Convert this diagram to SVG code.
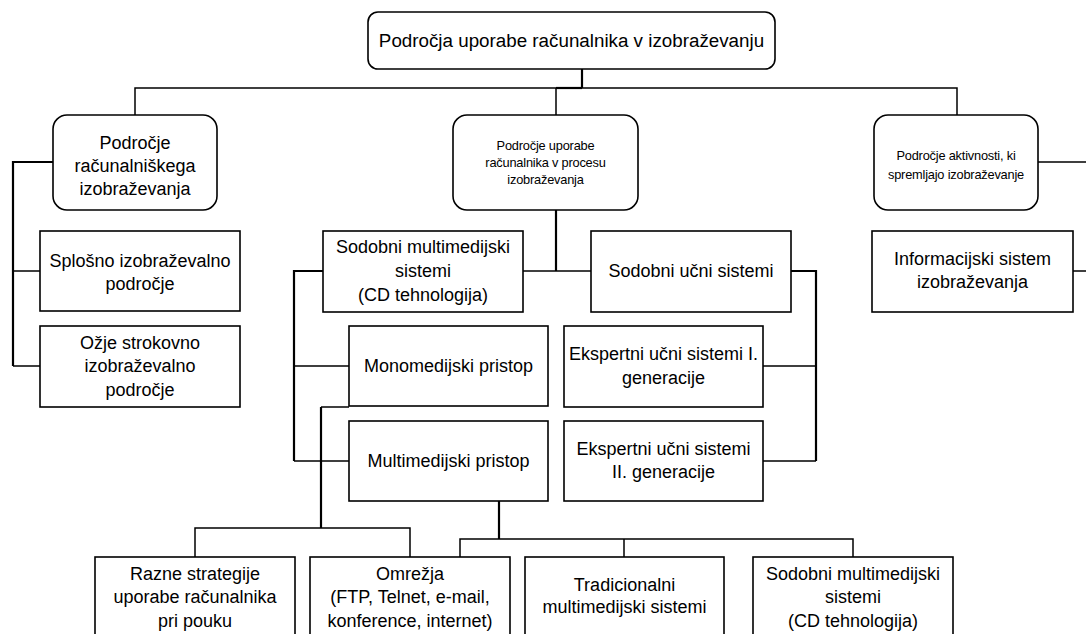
<svg xmlns="http://www.w3.org/2000/svg" width="1086" height="634" viewBox="0 0 1086 634">
<style>
.box{fill:#fff;stroke:#000;stroke-width:1.6}
.t{font-family:"Liberation Sans",Arial,sans-serif;font-size:18px;fill:#000;text-anchor:middle}
.s{font-family:"Liberation Sans",Arial,sans-serif;font-size:12.8px;fill:#000;text-anchor:middle;letter-spacing:-0.2px}
.c{fill:none;stroke:#000;stroke-width:1.5}
.ct{fill:none;stroke:#000;stroke-width:2.2}
</style>
<rect width="1086" height="634" fill="#fff"/>
<g id="connectors">
<path class="ct" d="M582,69V88"/>
<path class="c" d="M135,115V88H957V115M556,88V115"/>
<path class="ct" d="M556,88H582"/>
<path class="ct" d="M53,162H13V366"/>
<path class="c" d="M13,366H40M13,271H40"/>
<path class="ct" d="M556,210V271"/>
<path class="c" d="M523,271H591"/>
<path class="ct" d="M323,271H294V461"/>
<path class="c" d="M294,461H349M294,366H349"/>
<path class="c" d="M349,407H321"/>
<path class="ct" d="M321,407V528"/>
<path class="c" d="M195,557V528H410V557"/>
<path class="ct" d="M791,271H816V461"/>
<path class="c" d="M816,461H763M763,366H816"/>
<path class="ct" d="M499,501V539"/>
<path class="c" d="M460,557V539H853V557M624,539V557"/>
<path class="c" d="M1038,162H1086M1073,271H1086"/>
</g>
<g id="n-root"><rect class="box" x="368" y="12" width="407" height="57" rx="10"/><text class="t" x="571.5" y="47" style="font-size:18.8px">Področja uporabe računalnika v izobraževanju</text></g>
<g id="n-racunalnisko"><rect class="box" x="53" y="115" width="164" height="95" rx="14"/><text class="t" x="135" y="149">Področje</text><text class="t" x="135" y="172">računalniškega</text><text class="t" x="135" y="195">izobraževanja</text></g>
<g id="n-proces"><rect class="box" x="453" y="115" width="185" height="95" rx="14"/><text class="s" x="545.5" y="150">Področje uporabe</text><text class="s" x="545.5" y="167">računalnika v procesu</text><text class="s" x="545.5" y="184">izobraževanja</text></g>
<g id="n-aktivnosti"><rect class="box" x="874" y="115" width="164" height="95" rx="14"/><text class="s" x="956" y="160">Področje aktivnosti, ki</text><text class="s" x="956" y="179">spremljajo izobraževanje</text></g>
<g id="n-splosno"><rect class="box" x="40" y="231" width="200" height="80"/><text class="t" x="140" y="267">Splošno izobraževalno</text><text class="t" x="140" y="290">področje</text></g>
<g id="n-ozje"><rect class="box" x="40" y="326" width="200" height="81"/><text class="t" x="140" y="349">Ožje strokovno</text><text class="t" x="140" y="372">izobraževalno</text><text class="t" x="140" y="396">področje</text></g>
<g id="n-sodobni-mm"><rect class="box" x="323" y="231" width="200" height="81"/><text class="t" x="423" y="253">Sodobni multimedijski</text><text class="t" x="423" y="277">sistemi</text><text class="t" x="423" y="301">(CD tehnologija)</text></g>
<g id="n-sodobni-ucni"><rect class="box" x="591" y="231" width="200" height="81"/><text class="t" x="691" y="277">Sodobni učni sistemi</text></g>
<g id="n-informacijski"><rect class="box" x="872" y="231" width="201" height="81"/><text class="t" x="972.5" y="265">Informacijski sistem</text><text class="t" x="972.5" y="288">izobraževanja</text></g>
<g id="n-monomedijski"><rect class="box" x="349" y="326" width="199" height="80"/><text class="t" x="448.5" y="372">Monomedijski pristop</text></g>
<g id="n-ekspertni1"><rect class="box" x="564" y="326" width="199" height="81"/><text class="t" x="663.5" y="360">Ekspertni učni sistemi I.</text><text class="t" x="663.5" y="384">generacije</text></g>
<g id="n-multimedijski"><rect class="box" x="349" y="421" width="199" height="80"/><text class="t" x="448.5" y="467">Multimedijski pristop</text></g>
<g id="n-ekspertni2"><rect class="box" x="564" y="421" width="199" height="80"/><text class="t" x="663.5" y="455">Ekspertni učni sistemi</text><text class="t" x="663.5" y="478">II. generacije</text></g>
<g id="n-razne"><rect class="box" x="95" y="557" width="200" height="90"/><text class="t" x="195" y="580">Razne strategije</text><text class="t" x="195" y="603">uporabe računalnika</text><text class="t" x="195" y="627">pri pouku</text></g>
<g id="n-omrezja"><rect class="box" x="310" y="557" width="200" height="90"/><text class="t" x="410" y="580">Omrežja</text><text class="t" x="410" y="603">(FTP, Telnet, e-mail,</text><text class="t" x="410" y="627">konference, internet)</text></g>
<g id="n-tradicionalni"><rect class="box" x="525" y="557" width="199" height="90"/><text class="t" x="624.5" y="591">Tradicionalni</text><text class="t" x="624.5" y="613">multimedijski sistemi</text></g>
<g id="n-sodobni-mm2"><rect class="box" x="753" y="557" width="200" height="90"/><text class="t" x="853" y="580">Sodobni multimedijski</text><text class="t" x="853" y="603">sistemi</text><text class="t" x="853" y="627">(CD tehnologija)</text></g>
</svg>
